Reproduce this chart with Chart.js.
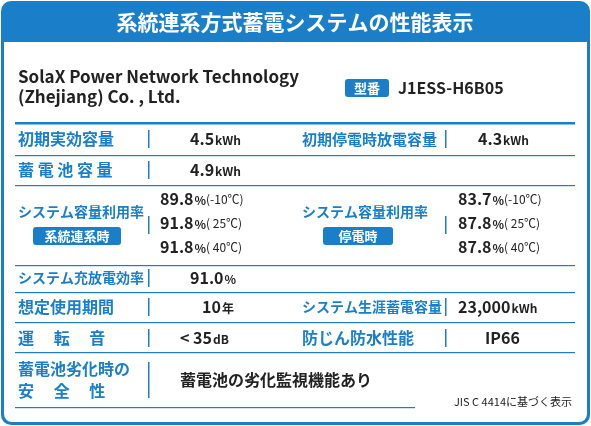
<!DOCTYPE html>
<html><head><meta charset="utf-8">
<script src="https://cdn.jsdelivr.net/npm/chart.js@4"></script>
<style>html,body{margin:0;padding:0;background:#fff}#wrap{width:591px;height:426px}</style>
</head><body><div id="wrap"><canvas id="c"></canvas></div>
<script>
// label data
const title = '系統連系方式蓄電システムの性能表示';
const company = ['SolaX Power Network Technology', '(Zhejiang) Co. , Ltd.'];
const model = 'J1ESS-H6B05';
const temps = ['(-10℃)', '( 25℃)', '( 40℃)'];
const rateGrid = ['89.8', '91.8', '91.8'];
const rateOutage = ['83.7', '87.8', '87.8'];
const note = 'JIS C 4414に基づく表示';

const BLUE = '#1a7fc8';
const F = '"Noto Sans CJK JP", "Noto Sans", sans-serif';

function txt(ctx, s, x, y, size, color, weight, align) {
    ctx.font = (weight || 'bold') + ' ' + size + 'px ' + F;
    ctx.fillStyle = color;
    ctx.textAlign = align || 'left';
    ctx.textBaseline = 'middle';
    ctx.fillText(s, x, y);
}
function val(ctx, num, unit, x, y) {
    txt(ctx, num, x, y, 16, '#222');
    ctx.font = 'bold 16px ' + F;
    const w = ctx.measureText(num).width;
    txt(ctx, unit, x + w + 1, y + 1, 12, '#222');
}
function bar(ctx, x, y) {
    ctx.fillStyle = BLUE;
    ctx.fillRect(x, y - 9, 1.5, 18);
}
function badge(ctx, s, x, y, w) {
    ctx.fillStyle = BLUE;
    ctx.beginPath();
    ctx.roundRect(x, y - 9, w, 18, 3);
    ctx.fill();
    txt(ctx, s, x + w / 2, y, 13, '#fff', 'bold', 'center');
}

const labelPlugin = {
    id: 'label',
    afterDraw(chart) {
        const ctx = chart.ctx;
        ctx.save();
        ctx.fillStyle = BLUE;
        ctx.beginPath(); ctx.roundRect(1, 1, 589, 424, 10); ctx.fill();
        ctx.fillStyle = '#fff';
        ctx.beginPath(); ctx.roundRect(4, 42, 583, 380, [0, 0, 8, 8]); ctx.fill();
        txt(ctx, title, 295, 22, 21, '#fff', 'bold', 'center');

        txt(ctx, company[0], 18, 77, 17, '#222');
        txt(ctx, company[1], 18, 97, 17, '#222');
        badge(ctx, '型番', 345, 88, 44);
        txt(ctx, model, 398, 88, 16, '#222');

        ctx.fillStyle = BLUE;
        ctx.fillRect(15, 122, 560, 2.5);
        [155, 185, 265, 292, 322, 352].forEach(y => ctx.fillRect(15, y, 560, 1.2));
        ctx.fillRect(15, 407, 400, 1.2);

        txt(ctx, '初期実効容量', 18, 139, 16, BLUE); bar(ctx, 148, 139); val(ctx, '4.5', 'kWh', 190, 139);
        txt(ctx, '初期停電時放電容量', 302, 139, 15, BLUE); bar(ctx, 445, 139); val(ctx, '4.3', 'kWh', 478, 139);
        txt(ctx, '蓄 電 池 容 量', 18, 170, 16, BLUE); bar(ctx, 148, 170); val(ctx, '4.9', 'kWh', 190, 170);
        txt(ctx, 'システム容量利用率', 18, 212, 14, BLUE); badge(ctx, '系統連系時', 33, 236, 88); bar(ctx, 148, 225);
        txt(ctx, 'システム容量利用率', 302, 212, 14, BLUE); badge(ctx, '停電時', 323, 236, 70); bar(ctx, 445, 225);
        for (let i = 0; i < 3; i++) {
            const y = 199 + i * 24;
            val(ctx, rateGrid[i], '%', 160, y);
            txt(ctx, temps[i], 206, y, 12, '#222', 'normal');
            val(ctx, rateOutage[i], '%', 458, y);
            txt(ctx, temps[i], 504, y, 12, '#222', 'normal');
        }
        txt(ctx, 'システム充放電効率', 18, 278, 14, BLUE); bar(ctx, 148, 278); val(ctx, '91.0', '%', 190, 278);
        txt(ctx, '想定使用期間', 18, 307, 16, BLUE); bar(ctx, 148, 307); val(ctx, '10', '年', 202, 307);
        txt(ctx, 'システム生涯蓄電容量', 302, 307, 14, BLUE); bar(ctx, 445, 307); val(ctx, '23,000', 'kWh', 458, 307);
        txt(ctx, '運　 転 　音', 18, 338, 16, BLUE); bar(ctx, 148, 338); val(ctx, '< 35', 'dB', 180, 338);
        txt(ctx, '防じん防水性能', 302, 338, 16, BLUE); bar(ctx, 445, 338); txt(ctx, 'IP66', 485, 338, 16, '#222');
        txt(ctx, '蓄電池劣化時の', 18, 369, 16, BLUE);
        txt(ctx, '安　 全 　性', 18, 391, 16, BLUE);
        ctx.fillStyle = BLUE; ctx.fillRect(148, 362, 1.5, 36);
        txt(ctx, '蓄電池の劣化監視機能あり', 180, 380, 16, '#222');
        txt(ctx, note, 572, 402, 11, '#222', 'normal', 'right');
        ctx.restore();
    }
};

new Chart(document.getElementById('c'), {
    type: 'bar',
    data: { labels: [], datasets: [] },
    options: {
        responsive: true, maintainAspectRatio: false, animation: false,
        plugins: { legend: { display: false }, tooltip: { enabled: false } },
        scales: { x: { display: false }, y: { display: false } }
    },
    plugins: [labelPlugin]
});
</script></body></html>
